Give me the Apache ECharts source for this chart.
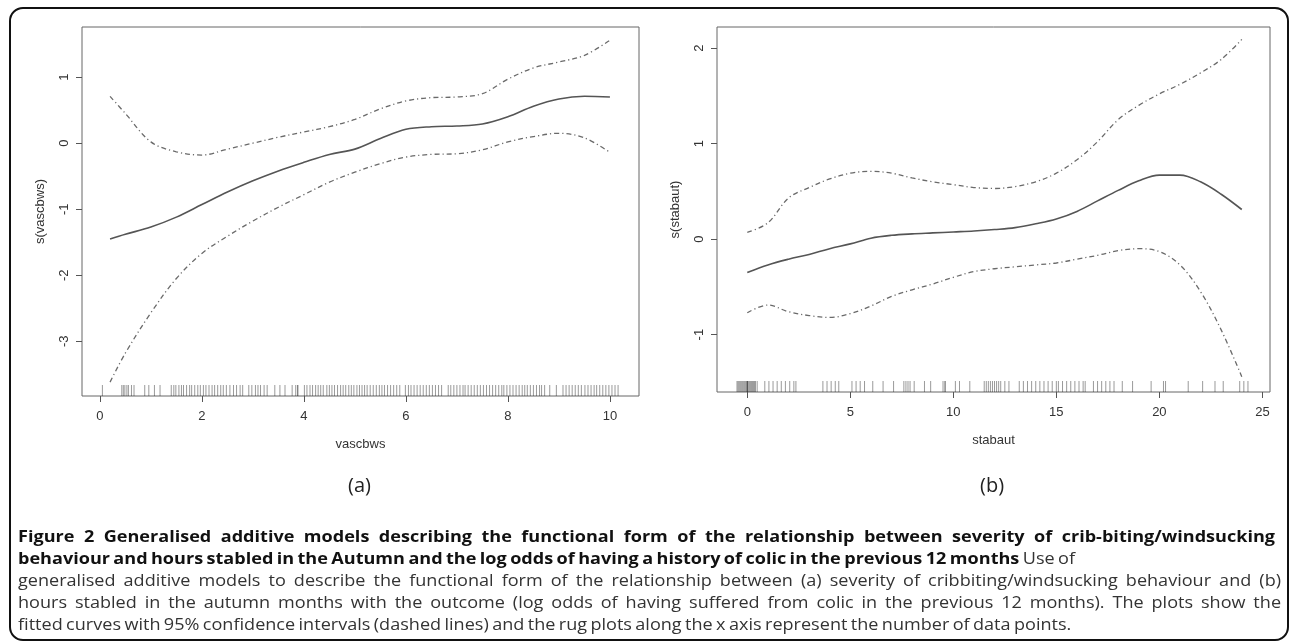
<!DOCTYPE html>
<html>
<head>
<meta charset="utf-8">
<script src="https://cdn.jsdelivr.net/npm/echarts@6/dist/echarts.min.js"></script>
<style>
  html, body { margin: 0; padding: 0; background: #fff; }
  #wrap { position: relative; width: 1292px; height: 642px; overflow: hidden; }
  #frame { position: absolute; left: 9px; top: 7px; width: 1276px; height: 630px; border: 2px solid #111; border-radius: 14px; }
  #chart { position: absolute; left: 0; top: 0; width: 1292px; height: 520px; }
  #caption { position: absolute; left: 18px; top: 525px; font-family: "Open Sans", "Noto Sans", sans-serif; font-size: 16.5px; line-height: 22px; color: #333; }
  .ln { white-space: nowrap; display: block; transform-origin: left center; width: max-content; }
  b { color: #111; font-weight: 700; }
</style>
</head>
<body>
<div id="wrap">
  <div id="chart"></div>
  <div id="frame"></div>
  <div id="caption">
    <span class="ln" data-w="1257"><b>Figure 2 Generalised additive models describing the functional form of the relationship between severity of crib-biting/windsucking</b></span>
    <span class="ln" data-w="1057"><b>behaviour and hours stabled in the Autumn and the log odds of having a history of colic in the previous 12 months</b> Use of</span>
    <span class="ln" data-w="1263" data-full="1">generalised additive models to describe the functional form of the relationship between (a) severity of cribbiting/windsucking behaviour and (b)</span>
    <span class="ln" data-w="1263">hours stabled in the autumn months with the outcome (log odds of having suffered from colic in the previous 12 months). The plots show the</span>
    <span class="ln" data-w="919" data-last="1">fitted curves with 95% confidence intervals (dashed lines) and the rug plots along the x axis represent the number of data points.</span>
  </div>
</div>
<script>
// ---------- Panel (a): vascbws ----------
const xA     = [0.2, 0.5, 1.0, 1.5, 2.0, 2.5, 3.0, 3.5, 4.0, 4.5, 5.0, 5.5, 6.0, 6.5, 7.0, 7.5, 8.0, 8.5, 9.0, 9.5, 10.0];
const fitA   = [-1.45, -1.38, -1.27, -1.12, -0.93, -0.74, -0.57, -0.42, -0.29, -0.17, -0.09, 0.07, 0.21, 0.25, 0.26, 0.29, 0.40, 0.56, 0.67, 0.71, 0.70];
const upperA = [0.71, 0.45, 0.02, -0.13, -0.18, -0.09, 0.00, 0.09, 0.17, 0.25, 0.36, 0.52, 0.64, 0.69, 0.70, 0.75, 0.97, 1.14, 1.23, 1.33, 1.56];
const lowerA = [-3.62, -3.18, -2.57, -2.05, -1.67, -1.41, -1.18, -0.97, -0.78, -0.59, -0.44, -0.31, -0.21, -0.17, -0.16, -0.10, 0.02, 0.10, 0.15, 0.08, -0.14];
const rugA = [0.05, 0.43, 0.46, 0.49, 0.53, 0.56, 0.62, 0.67, 0.88, 0.96, 1.07, 1.18, 1.40, 1.45, 1.49, 1.55, 1.60, 1.64, 1.70, 1.76, 1.80, 1.86, 1.92, 1.97, 2.03, 2.08, 2.14, 2.20, 2.25, 2.31, 2.37, 2.42, 2.48, 2.55, 2.62, 2.68, 2.75, 2.80, 2.92, 2.98, 3.05, 3.10, 3.15, 3.22, 3.28, 3.43, 3.53, 3.63, 3.77, 3.84, 3.88, 3.88, 4.01, 4.06, 4.12, 4.17, 4.23, 4.28, 4.33, 4.38, 4.45, 4.50, 4.55, 4.60, 4.66, 4.72, 4.77, 4.82, 4.88, 4.93, 4.98, 5.04, 5.09, 5.14, 5.19, 5.24, 5.30, 5.36, 5.42, 5.48, 5.53, 5.58, 5.64, 5.70, 5.76, 5.82, 5.88, 5.99, 6.05, 6.10, 6.16, 6.22, 6.28, 6.34, 6.40, 6.46, 6.52, 6.58, 6.64, 6.70, 6.83, 6.88, 6.94, 7.00, 7.06, 7.12, 7.16, 7.22, 7.28, 7.34, 7.40, 7.46, 7.52, 7.58, 7.64, 7.70, 7.76, 7.82, 7.88, 7.92, 7.98, 8.04, 8.10, 8.16, 8.22, 8.28, 8.33, 8.38, 8.44, 8.50, 8.56, 8.62, 8.66, 8.72, 8.82, 8.95, 9.08, 9.14, 9.20, 9.26, 9.32, 9.38, 9.44, 9.51, 9.57, 9.63, 9.69, 9.74, 9.80, 9.86, 9.92, 9.98, 10.04, 10.10, 10.16];
const xTicksA = [0, 2, 4, 6, 8, 10];
const yTicksA = [-3, -2, -1, 0, 1];

// ---------- Panel (b): stabaut ----------
const xB     = [0, 1, 2, 3, 4, 5, 6, 7, 8, 9, 10, 11, 12, 13, 14, 15, 16, 17, 18, 19, 20, 21, 22, 23, 24];
const fitB   = [-0.35, -0.27, -0.21, -0.16, -0.10, -0.05, 0.01, 0.04, 0.055, 0.065, 0.075, 0.085, 0.10, 0.12, 0.16, 0.21, 0.29, 0.40, 0.51, 0.61, 0.67, 0.67, 0.60, 0.47, 0.31];
const upperB = [0.07, 0.17, 0.43, 0.54, 0.63, 0.69, 0.71, 0.69, 0.64, 0.60, 0.57, 0.54, 0.53, 0.55, 0.60, 0.69, 0.83, 1.02, 1.25, 1.40, 1.52, 1.62, 1.74, 1.88, 2.09];
const lowerB = [-0.77, -0.69, -0.76, -0.80, -0.82, -0.78, -0.70, -0.60, -0.53, -0.47, -0.40, -0.34, -0.31, -0.29, -0.27, -0.25, -0.21, -0.17, -0.12, -0.10, -0.13, -0.27, -0.55, -0.95, -1.44];
const rugB = [-0.5, -0.45, -0.4, -0.35, -0.3, -0.25, -0.2, -0.15, -0.1, -0.05, 0, 0, 0, 0.05, 0.1, 0.15, 0.2, 0.25, 0.3, 0.35, 0.4, 0.48, 0.85, 1.05, 1.25, 1.45, 1.65, 1.85, 2.06, 2.26, 2.36, 3.67, 3.87, 4.07, 4.27, 4.44, 5.08, 5.28, 5.48, 5.69, 6.09, 6.59, 7.1, 7.6, 7.7, 7.8, 7.9, 8.1, 8.6, 8.9, 9.5, 9.6, 9.6, 10.1, 10.3, 10.8, 11.5, 11.6, 11.7, 11.8, 11.9, 12.0, 12.1, 12.2, 12.3, 12.5, 12.7, 13.2, 13.4, 13.6, 13.8, 14.0, 14.2, 14.4, 14.6, 14.8, 15.0, 15.1, 15.3, 15.5, 15.7, 15.9, 16.1, 16.3, 16.4, 16.8, 17.0, 17.2, 17.4, 17.6, 17.8, 18.2, 18.7, 19.6, 20.2, 20.3, 21.4, 22.1, 22.7, 23.1, 23.9, 24.1, 24.3];
const xTicksB = [0, 5, 10, 15, 20, 25];
const yTicksB = [-1, 0, 1, 2];

const rangeA = { xmin: -0.35, xmax: 10.57, ymin: -3.83, ymax: 1.76 };
const rangeB = { xmin: -1.47, xmax: 25.37, ymin: -1.60, ymax: 2.22 };

const pairs = (xs, ys) => xs.map((x, i) => [x, ys[i]]);
const FONT = '"Liberation Sans", Arial, sans-serif';

function xAxisCfg(idx, r, ticks, name) {
  return {
    type: 'value', gridIndex: idx, min: r.xmin, max: r.xmax, position: 'bottom',
    axisLine: { show: false, onZero: false }, splitLine: { show: false },
    axisTick: { show: true, length: 6, customValues: ticks, lineStyle: { color: '#555', width: 1 } },
    axisLabel: { customValues: ticks, margin: 14, color: '#333', fontSize: 13, fontFamily: FONT },
    name: name, nameLocation: 'middle', nameGap: 42,
    nameTextStyle: { color: '#333', fontSize: 13, fontFamily: FONT }
  };
}
function yAxisCfg(idx, r, ticks, name) {
  return {
    type: 'value', gridIndex: idx, min: r.ymin, max: r.ymax, position: 'left',
    axisLine: { show: false, onZero: false }, splitLine: { show: false },
    axisTick: { show: true, length: 6, customValues: ticks, lineStyle: { color: '#555', width: 1 } },
    axisLabel: { customValues: ticks, rotate: 90, margin: 11, color: '#333', fontSize: 13, fontFamily: FONT },
    name: name, nameLocation: 'middle', nameRotate: 90, nameGap: 35,
    nameTextStyle: { color: '#333', fontSize: 13, fontFamily: FONT }
  };
}
function curve(idx, xs, ys, dashed) {
  return {
    type: 'line', xAxisIndex: idx, yAxisIndex: idx, data: pairs(xs, ys),
    showSymbol: false, smooth: 0.35, silent: true,
    lineStyle: dashed ? { color: '#6a6a6a', width: 1.3, type: [5, 3, 1.2, 3] } : { color: '#555', width: 1.6 }
  };
}
function rug(idx, vals, ymin) {
  return {
    type: 'custom', xAxisIndex: idx, yAxisIndex: idx, silent: true,
    data: vals.map(v => [v, ymin]), encode: { x: 0, y: 1 },
    renderItem: (params, api) => {
      const p = api.coord([api.value(0), api.value(1)]);
      return { type: 'line', shape: { x1: p[0], y1: p[1], x2: p[0], y2: p[1] - 11 },
               style: { stroke: 'rgba(30,30,30,0.45)', lineWidth: 1 } };
    }
  };
}

const chart = echarts.init(document.getElementById('chart'), null, { renderer: 'canvas' });
chart.setOption({
  animation: false,
  grid: [
    { left: 82, top: 27, width: 557, height: 369, show: true, borderColor: '#666', borderWidth: 1, backgroundColor: 'transparent' },
    { left: 717, top: 27, width: 553, height: 365, show: true, borderColor: '#666', borderWidth: 1, backgroundColor: 'transparent' }
  ],
  xAxis: [ xAxisCfg(0, rangeA, xTicksA, 'vascbws'), xAxisCfg(1, rangeB, xTicksB, 'stabaut') ],
  yAxis: [ yAxisCfg(0, rangeA, yTicksA, 's(vascbws)'), yAxisCfg(1, rangeB, yTicksB, 's(stabaut)') ],
  graphic: [
    { type: 'text', left: 348, top: 476, style: { text: '(a)', fontSize: 20, fontFamily: '"Open Sans", sans-serif', fill: '#222' } },
    { type: 'text', left: 980, top: 476, style: { text: '(b)', fontSize: 20, fontFamily: '"Open Sans", sans-serif', fill: '#222' } }
  ],
  series: [
    curve(0, xA, fitA, false), curve(0, xA, upperA, true), curve(0, xA, lowerA, true), rug(0, rugA, rangeA.ymin),
    curve(1, xB, fitB, false), curve(1, xB, upperB, true), curve(1, xB, lowerB, true), rug(1, rugB, rangeB.ymin)
  ]
});

// caption: a common horizontal scale (close to the full lines), remaining fit via modest word spacing
const lines = Array.from(document.querySelectorAll('#caption .ln'));
const nat = lines.map(el => el.getBoundingClientRect().width);
const fFull = 1263 / nat[lines.findIndex(el => el.dataset.full)];
const fLast = 919 / nat[lines.findIndex(el => el.dataset.last)];
const s = fLast + 0.75 * (fFull - fLast);
lines.forEach((el, i) => {
  el.style.transform = 'scaleX(' + s.toFixed(4) + ')';
  const spaces = (el.textContent.trim().match(/ /g) || []).length;
  let ws = spaces > 0 ? (parseFloat(el.dataset.w) / s - nat[i]) / spaces : 0;
  if (ws < -1.2) ws = -1.2;
  el.style.wordSpacing = ws.toFixed(3) + 'px';
});
</script>
</body>
</html>
